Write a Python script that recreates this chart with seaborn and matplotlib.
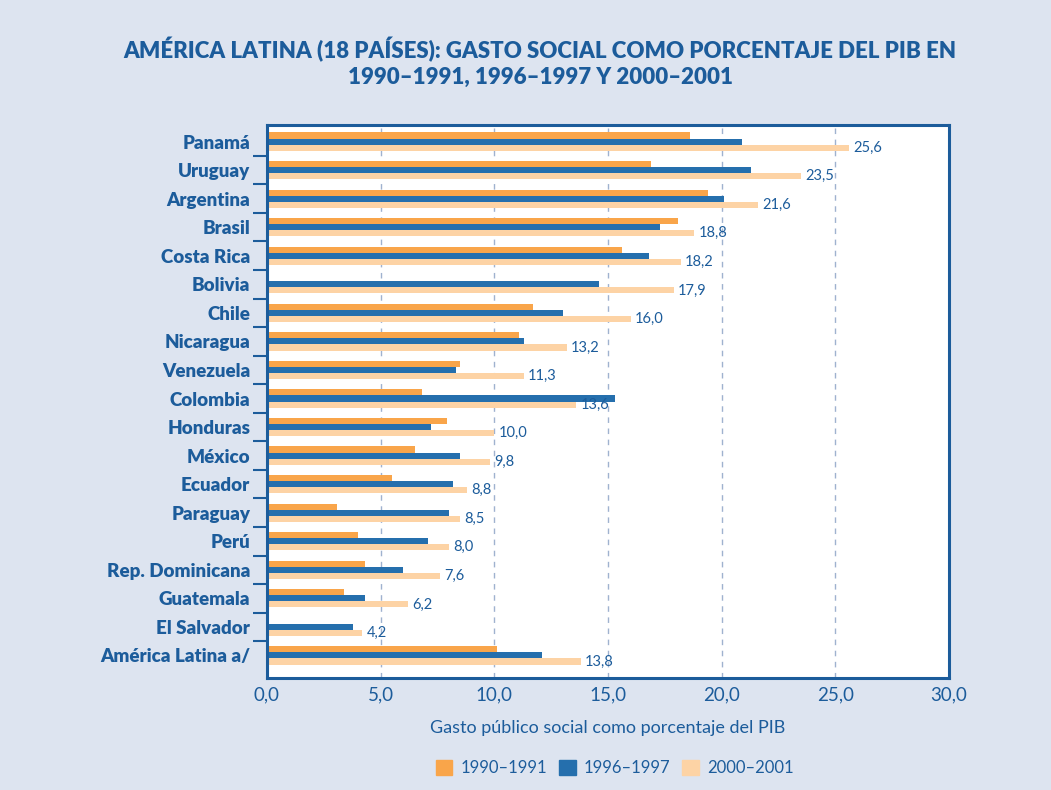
import pandas as pd
import matplotlib.pyplot as plt
import seaborn as sns
import numpy as np

# Data
paises = ['Panamá', 'Uruguay', 'Argentina', 'Brasil', 'Costa Rica', 'Bolivia',
          'Chile', 'Nicaragua', 'Venezuela', 'Colombia', 'Honduras', 'México',
          'Ecuador', 'Paraguay', 'Perú', 'Rep. Dominicana', 'Guatemala',
          'El Salvador', 'América Latina a/']
periodos = ['1990–1991', '1996–1997', '2000–2001']
g_1990 = [18.6, 16.9, 19.4, 18.1, 15.6, np.nan, 11.7, 11.1, 8.5, 6.8, 7.9, 6.5,
          5.5, 3.1, 4.0, 4.3, 3.4, np.nan, 10.1]
g_1996 = [20.9, 21.3, 20.1, 17.3, 16.8, 14.6, 13.0, 11.3, 8.3, 15.3, 7.2, 8.5,
          8.2, 8.0, 7.1, 6.0, 4.3, 3.8, 12.1]
g_2000 = [25.6, 23.5, 21.6, 18.8, 18.2, 17.9, 16.0, 13.2, 11.3, 13.6, 10.0, 9.8,
          8.8, 8.5, 8.0, 7.6, 6.2, 4.2, 13.8]

colores = ['#f9a54a', '#256fad', '#fdd3a5']
azul = '#1c5c9b'
fondo = '#dde4f0'

df = pd.DataFrame({'pais': paises * 3,
                   'periodo': np.repeat(periodos, len(paises)),
                   'valor': g_1990 + g_1996 + g_2000}).dropna()

sns.set_theme(style='white')
plt.rcParams['font.family'] = ['Lato', 'DejaVu Sans']

fig = plt.figure(figsize=(10.51, 7.90), dpi=100, facecolor=fondo)
ax = fig.add_axes([267 / 1051, 1 - 678 / 790, 682 / 1051, 553 / 790])
ax.set_facecolor('white')

sns.barplot(data=df, y='pais', x='valor', hue='periodo', order=paises,
            hue_order=periodos, palette=colores, orient='h', width=0.64,
            saturation=1, linewidth=0, ax=ax, legend=False)

ax.set_xlim(0, 30)
ax.set_ylim(18.79, -0.58)

# value labels on the 2000-2001 bars
peach = ax.containers[2]
ax.bar_label(peach, labels=[f'{v:.1f}'.replace('.', ',') for v in g_2000],
             padding=3, color=azul, fontsize=10.5)

# grid
for xv in [5, 10, 15, 20, 25]:
    ax.axvline(xv, color='#9fb2cf', linestyle=(0, (4, 4)), linewidth=1, zorder=0)

ax.set_xticks(np.arange(0, 31, 5))
ax.set_xticklabels([f'{v:.1f}'.replace('.', ',') for v in np.arange(0, 31, 5)])
ax.tick_params(axis='x', length=0, pad=6, labelsize=13.5, labelcolor=azul)
ax.tick_params(axis='y', which='major', length=0, pad=12, labelsize=13.5,
               labelcolor=azul)
for t in ax.get_yticklabels():
    t.set_fontweight('heavy')
ax.set_yticks(np.arange(len(paises) - 1) + 0.5, minor=True)
ax.tick_params(axis='y', which='minor', left=True, length=10, width=1.5,
               color=azul, direction='out')

for s in ax.spines.values():
    s.set_color(azul)
    s.set_linewidth(2.2)

ax.set_ylabel('')
ax.set_xlabel('Gasto público social como porcentaje del PIB', color=azul,
              fontsize=13, labelpad=12)

fig.text(0.514, 0.921, 'AMÉRICA LATINA (18 PAÍSES): GASTO SOCIAL COMO PORCENTAJE DEL PIB EN\n'
         '1990–1991, 1996–1997 Y 2000–2001', ha='center', va='center',
         color=azul, fontsize=16, fontweight='heavy', linespacing=1.3)

handles = [plt.Rectangle((0, 0), 1, 1, color=c) for c in colores]
fig.legend(handles, periodos, loc='center', bbox_to_anchor=(0.585, 0.028),
           ncol=3, frameon=False, fontsize=12, labelcolor=azul,
           handlelength=1.0, handleheight=1.0, columnspacing=0.7,
           handletextpad=0.5)

plt.savefig('out.png', dpi=100, facecolor=fondo)
